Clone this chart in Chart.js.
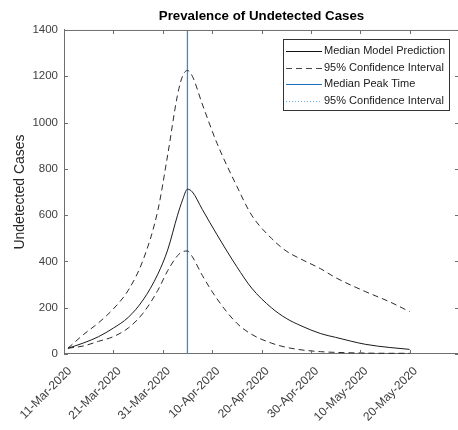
<!DOCTYPE html>
<html><head><meta charset="utf-8">
<script src="https://cdn.jsdelivr.net/npm/chart.js@4.4.0/dist/chart.umd.min.js"></script>
<style>
html,body{margin:0;padding:0;background:#fff;overflow:hidden;width:458px;height:430px}
#wrap{position:relative;width:461px;height:430px}
</style></head>
<body><div id="wrap"><canvas id="c"></canvas></div>
<script>
// x tick labels every 10 days starting 11-Mar-2020 (day 0)
const tickLabels = ['11-Mar-2020','21-Mar-2020','31-Mar-2020','10-Apr-2020','20-Apr-2020','30-Apr-2020','10-May-2020','20-May-2020',''];
// days since 11-Mar-2020
const days   = [0.8, 4, 7, 10, 13, 16, 19, 21, 23, 24, 25, 26, 28, 31, 35, 38, 42, 45, 48, 52, 55, 61, 66, 70];
const median = [25, 48, 75, 112, 158, 233, 345, 450, 600, 665, 712, 700, 625, 515, 377, 285, 200, 154, 122, 88, 72, 42, 28, 20];
const upper  = [25, 85, 135, 195, 275, 405, 620, 860, 1120, 1200, 1225, 1200, 1080, 910, 725, 600, 500, 445, 410, 368, 330, 270, 225, 183];
const lower  = [25, 35, 55, 75, 112, 176, 275, 360, 425, 442, 445, 420, 340, 238, 133, 85, 47, 29, 18, 10, 7, 4, 3, 3];
const peakDay = 25;
const yTicks = [0, 200, 400, 600, 800, 1000, 1200, 1400];
const legendLabels = ['Median Model Prediction','95% Confidence Interval','Median Peak Time','95% Confidence Interval'];

const FONT = '"Liberation Sans", Arial, Helvetica, sans-serif';
Chart.defaults.font.family = FONT;

const pts = arr => days.map((d, i) => ({x: d, y: arr[i]}));
const BLUE = '#2f8ee0';

const boxPlugin = {
  id: 'boxTicks',
  afterDraw(chart) {
    const {ctx, chartArea: a, scales: {x, y}} = chart;
    ctx.save();
    ctx.strokeStyle = '#6e6e6e';
    ctx.lineWidth = 1;
    ctx.beginPath();
    ctx.moveTo(a.left, a.top + 0.5); ctx.lineTo(a.right, a.top + 0.5);
    ctx.moveTo(a.right - 0.5, a.top); ctx.lineTo(a.right - 0.5, a.bottom);
    const L = 4;
    for (let v = 0; v <= 80; v += 10) {
      const px = Math.round(x.getPixelForValue(v)) + 0.5;
      ctx.moveTo(px, a.bottom); ctx.lineTo(px, a.bottom - L);
      ctx.moveTo(px, a.top); ctx.lineTo(px, a.top + L);
    }
    yTicks.forEach(v => {
      const py = Math.round(y.getPixelForValue(v)) + 0.5;
      ctx.moveTo(a.left, py); ctx.lineTo(a.left + L, py);
      ctx.moveTo(a.right, py); ctx.lineTo(a.right - L, py);
    });
    ctx.stroke();
    ctx.restore();
  }
};

const legendPlugin = {
  id: 'boxLegend',
  afterDatasetsDraw(chart) {
    const {ctx} = chart;
    const bx = 283, by = 39, bw = 166, bh = 71;
    ctx.save();
    ctx.fillStyle = '#fff';
    ctx.fillRect(bx, by, bw, bh);
    ctx.strokeStyle = '#333';
    ctx.lineWidth = 1;
    ctx.strokeRect(bx + 0.5, by + 0.5, bw, bh);
    const styles = [
      {c: '#111', d: []},
      {c: '#444', d: [6, 4]},
      {c: '#1a72bd', d: []},
      {c: '#6ab0e4', d: [1, 2]}
    ];
    ctx.font = '11px ' + FONT;
    ctx.textBaseline = 'middle';
    ctx.fillStyle = '#1a1a1a';
    legendLabels.forEach((t, i) => {
      const ry = by + 12 + i * 16.5;
      ctx.beginPath();
      ctx.strokeStyle = styles[i].c;
      ctx.setLineDash(styles[i].d);
      ctx.moveTo(286, Math.round(ry) + 0.5);
      ctx.lineTo(322, Math.round(ry) + 0.5);
      ctx.stroke();
      ctx.setLineDash([]);
      ctx.fillText(t, 324, ry);
    });
    ctx.restore();
  }
};

new Chart(document.getElementById('c'), {
  type: 'line',
  data: {
    datasets: [
      {label: legendLabels[0], data: pts(median), borderColor: '#1a1a1a', borderWidth: 1, pointRadius: 0, cubicInterpolationMode: 'monotone', fill: false},
      {label: legendLabels[1], data: pts(upper), borderColor: '#2a2a2a', borderWidth: 1, borderDash: [6, 4], pointRadius: 0, cubicInterpolationMode: 'monotone', fill: false},
      {label: legendLabels[1], data: pts(lower), borderColor: '#2a2a2a', borderWidth: 1, borderDash: [6, 4], pointRadius: 0, cubicInterpolationMode: 'monotone', fill: false},
      {label: legendLabels[2], data: [{x: peakDay, y: 0}, {x: peakDay, y: 1400}], borderColor: BLUE, borderWidth: 1.3, pointRadius: 0, fill: false}
    ]
  },
  options: {
    responsive: true,
    maintainAspectRatio: false,
    animation: false,
    layout: {padding: {left: 0, right: 2, top: 0, bottom: 0}},
    plugins: {
      legend: {display: false},
      tooltip: {enabled: false},
      title: {
        display: true,
        text: 'Prevalence of Undetected Cases',
        fullSize: false,
        color: '#000',
        font: {size: 13.3, weight: 'bold', lineHeight: 1.2},
        padding: {top: 8, bottom: 6}
      }
    },
    scales: {
      x: {
        type: 'linear', min: 0, max: 80,
        grid: {display: false, drawTicks: false},
        border: {display: true, color: '#6e6e6e', width: 1},
        ticks: {
          stepSize: 10, autoSkip: false, maxRotation: 45, minRotation: 45,
          padding: 10, labelOffset: 6, color: '#404040', font: {size: 12},
          callback: v => tickLabels[Math.round(v / 10)] ?? ''
        },
        afterFit: s => { s.height = 76; s.paddingLeft = 0; s.paddingRight = 0; }
      },
      y: {
        min: 0, max: 1400,
        grid: {display: false, drawTicks: false},
        border: {display: true, color: '#6e6e6e', width: 1},
        ticks: {stepSize: 200, padding: 6, color: '#404040', font: {size: 11.5}, callback: v => String(v)},
        title: {display: true, text: 'Undetected Cases', color: '#262626', font: {size: 14}, padding: {top: 12, bottom: 0}},
        afterFit: s => { s.width = 64; s.paddingTop = 0; s.paddingBottom = 0; }
      }
    }
  },
  plugins: [boxPlugin, legendPlugin]
});
</script>
</body></html>
